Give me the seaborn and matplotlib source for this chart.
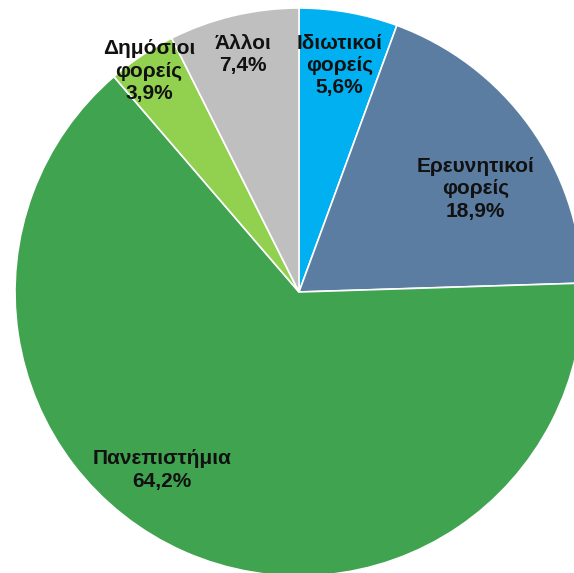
import matplotlib.pyplot as plt
import seaborn as sns
import numpy as np

# Données
categories = ['Ιδιωτικοί\nφορείς', 'Ερευνητικοί\nφορείς', 'Πανεπιστήμια',
              'Δημόσιοι\nφορείς', 'Άλλοι']
values = [5.6, 18.9, 64.2, 3.9, 7.4]
colors = ['#00B0F0', '#5B7DA1', '#3FA34F', '#92D050', '#BFBFBF']

# Placement des étiquettes (distance radiale, décalage angulaire en degrés)
label_dist = [0.81, 0.72, 0.79, 0.94, 0.86]
label_shift = [0, -5.5, -13.8, 0.5, 0]

sns.set_theme(style='white')
plt.rcParams['font.family'] = ['Liberation Sans', 'DejaVu Sans']

fig = plt.figure(figsize=(5.74, 5.73), dpi=100)
ax = fig.add_axes([0, 0, 1, 1])

wedges, _ = ax.pie(
    values,
    colors=colors,
    startangle=90,
    counterclock=False,
    radius=1.0,
    wedgeprops={'edgecolor': 'white', 'linewidth': 1.2},
)

# Étiquettes avec pourcentages
for w, cat, val, d, s in zip(wedges, categories, values, label_dist, label_shift):
    ang = np.deg2rad((w.theta1 + w.theta2) / 2 + s)
    txt = f"{cat}\n{val:.1f}%".replace('.', ',')
    ax.text(d * np.cos(ang), d * np.sin(ang), txt, ha='center', va='center',
            fontsize=15, fontweight='bold', color='#111111', linespacing=1.22)

# Cadrage : le disque déborde légèrement à droite et en bas
r_px, cx, cy = 284, 299, 292
ax.set_xlim(-cx / r_px, (574 - cx) / r_px)
ax.set_ylim(-(573 - cy) / r_px, cy / r_px)
ax.set_aspect('auto')
ax.axis('off')

plt.savefig('out.png', dpi=100)
